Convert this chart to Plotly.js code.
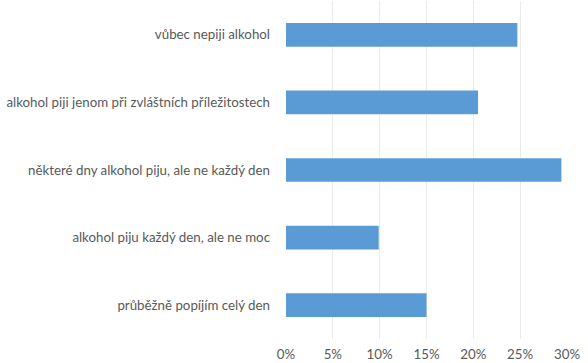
<!DOCTYPE html>
<html>
<head>
<meta charset="utf-8">
<script src="https://cdn.plot.ly/plotly-3.0.1.min.js"></script>
<style>html,body{margin:0;padding:0;background:#fff;}#chart{width:588px;height:363px;}</style>
</head>
<body>
<div id="chart"></div>
<script>
var categories = [
  "vůbec nepiji alkohol",
  "alkohol piji jenom při zvláštních příležitostech",
  "některé dny alkohol piju, ale ne každý den",
  "alkohol piju každý den, ale ne moc",
  "průběžně popíjím celý den"
];
var values = [0.247, 0.205, 0.294, 0.099, 0.150];
var tickVals = [0, 0.05, 0.10, 0.15, 0.20, 0.25, 0.30];
var tickText = ["0%", "5%", "10%", "15%", "20%", "25%", "30%"];

var trace = {
  type: "bar",
  orientation: "h",
  x: values,
  y: categories,
  marker: {color: "#5b9bd5", line: {width: 0}},
  hoverinfo: "skip"
};
var layout = {
  width: 588, height: 363,
  margin: {l: 286, r: 21, t: 1, b: 24, pad: 0},
  paper_bgcolor: "#fff", plot_bgcolor: "#fff",
  font: {family: "Lato, 'Open Sans', sans-serif", size: 13, color: "#595959"},
  bargap: 0.65,
  showlegend: false,
  xaxis: {
    range: [0, 0.30],
    tickvals: tickVals, ticktext: tickText,
    showgrid: true, gridcolor: "#ebebeb", gridwidth: 1,
    zeroline: false, showline: false, ticks: "",
    ticklabelstandoff: 6,
    tickfont: {size: 13.3, color: "#595959"},
    fixedrange: true
  },
  yaxis: {
    type: "category",
    autorange: "reversed",
    showgrid: false, zeroline: false, showline: false, ticks: "",
    ticklabelstandoff: 15,
    tickfont: {size: 13.3, color: "#595959"},
    fixedrange: true
  }
};
Plotly.newPlot("chart", [trace], layout, {staticPlot: true, displayModeBar: false});
</script>
</body>
</html>
